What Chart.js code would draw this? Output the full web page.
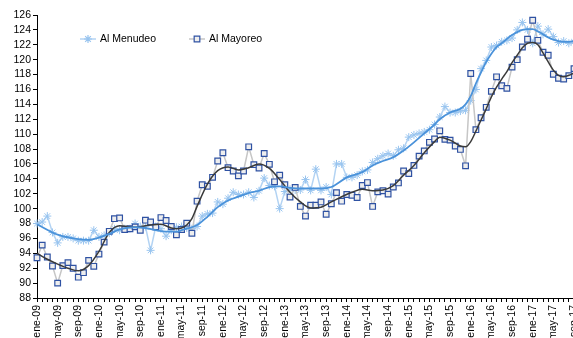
<!DOCTYPE html>
<html>
<head>
<meta charset="utf-8">
<script src="https://cdn.jsdelivr.net/npm/chart.js@4/dist/chart.umd.min.js"></script>
<style>
  html, body { margin: 0; padding: 0; background: #fff; overflow: hidden; }
  #wrap { position: relative; width: 580px; height: 338px; }
</style>
</head>
<body>
<div id="wrap"><canvas id="c" width="580" height="338"></canvas></div>
<script>
// Monthly categories, ene-09 .. sep-17
const monthNames = ['ene', 'feb', 'mar', 'abr', 'may', 'jun', 'jul', 'ago', 'sep', 'oct', 'nov', 'dic'];
const years = ['09', '10', '11', '12', '13', '14', '15', '16', '17'];
const categories = [];
years.forEach(y => monthNames.forEach(m => categories.push(m + '-' + y)));
categories.length = 105;

// Price index, retail ("Al Menudeo")
const menudeo = [
  98.0, 98.2, 99.0, 96.8, 95.4, 96.2, 96.2, 96.0, 95.7, 95.7,
  95.7, 97.1, 96.2, 96.4, 96.7, 97.3, 97.1, 97.3, 97.3, 98.0,
  97.6, 97.6, 94.4, 97.6, 97.3, 96.3, 97.1, 97.5, 97.6, 97.4,
  97.3, 97.6, 99.0, 99.3, 99.4, 100.9, 100.6, 101.4, 102.2, 101.9,
  101.9, 102.2, 101.5, 102.4, 104.1, 103.1, 103.0, 100.0, 102.3, 102.6,
  102.5, 102.5, 103.9, 102.45, 105.3, 102.45, 102.9, 101.9, 106.0, 106.0,
  104.2, 104.2, 104.5, 105.0, 105.2, 106.2, 106.7, 107.1, 107.4, 107.1,
  107.9, 108.1, 109.6, 109.9, 110.1, 110.3, 110.6, 111.3, 112.3, 113.7,
  112.9, 112.9, 113.1, 113.2, 114.5, 116.0, 118.8, 119.9, 121.7, 121.9,
  122.4, 122.6, 122.9, 124.0, 125.0, 124.0, 122.2, 124.5, 123.4, 124.1,
  123.1, 122.3, 122.5, 122.2, 122.4
];

// Price index, wholesale ("Al Mayoreo")
const mayoreo = [
  93.4, 95.1, 93.5, 92.3, 90.0, 92.35, 92.75, 92.0, 90.8, 91.4,
  93.05, 92.25, 93.9, 95.5, 96.95, 98.65, 98.75, 97.2, 97.3, 97.55,
  97.1, 98.45, 98.2, 97.55, 98.8, 98.4, 97.6, 96.5, 97.2, 98.05,
  96.7, 101.0, 103.2, 103.0, 104.2, 106.4, 107.5, 105.5, 105.05, 104.4,
  105.05, 108.3, 105.9, 105.45, 107.4, 105.95, 103.6, 104.5, 103.2, 101.55,
  102.85, 100.3, 99.0, 100.45, 100.45, 100.9, 99.25, 100.65, 102.15, 101.0,
  101.9, 101.8, 101.5, 103.1, 103.5, 100.3, 102.25, 102.4, 101.95, 102.9,
  103.45, 105.05, 104.7, 105.8, 107.05, 107.75, 108.9, 109.35, 110.45, 109.3,
  109.2, 108.4, 107.95, 105.75, 118.15, 110.6, 112.2, 113.6, 115.75, 117.7,
  116.5, 116.15, 119.0, 120.0, 121.7, 122.75, 125.3, 122.6, 121.0, 120.6,
  118.05, 117.5, 117.4, 117.85, 118.8
];

// Smoothed trend readings (month index, value)
const menudeoTrendAt = [0, 4, 8, 10, 12, 14, 16, 19, 21, 23, 25, 27, 28, 31, 33, 35, 37, 39, 41, 43, 45, 47, 49, 51, 53, 55, 57, 60, 63, 65, 67, 69, 71, 73, 75, 77, 78, 80, 82, 83, 84, 85, 86, 87, 88, 89, 90, 91, 92, 93, 94, 95, 96, 97, 98, 99, 100, 101, 102, 103, 104];
const menudeoTrend = [97.9, 96.5, 95.9, 95.8, 96.1, 96.6, 97.2, 97.5, 97.4, 97.1, 96.9, 96.9, 97.1, 97.8, 98.9, 100.2, 101.1, 101.6, 102.1, 102.4, 102.9, 103.0, 102.8, 102.7, 102.7, 102.7, 102.9, 104.2, 104.9, 105.8, 106.4, 106.9, 107.8, 108.9, 110.1, 111.3, 112.0, 112.9, 113.4, 114.0, 115.1, 116.8, 118.3, 119.7, 120.8, 121.7, 122.2, 122.8, 123.3, 123.7, 124.0, 124.1, 124.1, 123.8, 123.4, 123.0, 122.7, 122.5, 122.4, 122.4, 122.5];

const mayoreoTrendAt = [0, 2, 4, 6, 8, 10, 12, 14, 16, 19, 22, 24, 26, 27, 28, 29, 30, 31, 33, 35, 37, 39, 41, 43, 45, 47, 49, 51, 53, 55, 57, 59, 61, 63, 65, 67, 69, 71, 73, 75, 77, 78, 80, 82, 83, 84, 85, 86, 87, 88, 89, 90, 91, 92, 93, 94, 95, 96, 97, 98, 99, 100, 101, 102, 103, 104];
const mayoreoTrend = [94.0, 93.2, 92.55, 92.0, 91.65, 92.35, 94.25, 96.8, 97.7, 97.5, 97.8, 97.9, 97.4, 97.3, 97.4, 97.8, 98.65, 100.3, 103.3, 105.1, 105.6, 105.2, 105.5, 106.0, 105.4, 103.9, 102.2, 100.9, 100.1, 100.2, 100.9, 101.6, 102.2, 102.6, 102.4, 102.5, 103.1, 104.5, 105.8, 107.5, 109.0, 109.6, 109.2, 108.4, 108.3, 109.0, 110.4, 111.9, 113.4, 115.0, 116.3, 117.4, 118.4, 119.6, 120.6, 121.6, 122.2, 122.3, 122.0, 120.9, 119.7, 118.6, 117.9, 117.7, 117.9, 118.2];

const seriesNames = ['Al Menudeo', 'Al Mayoreo'];

const toPoints = (idx, vals) => idx.map((i, k) => ({ x: categories[i], y: vals[k] }));

const COLORS = {
  menudeoMark: '#98c4ef',
  menudeoLine: '#b3d3f3',
  menudeoTrend: '#4a92da',
  mayoreoMark: '#2f52a3',
  mayoreoFill: '#eeeeee',
  mayoreoLine: '#c6c6c6',
  mayoreoTrend: '#3a3a3a'
};

// Key drawn inside the plot, line + marker per series
const seriesKey = {
  id: 'seriesKey',
  afterDraw(chart) {
    const ctx = chart.ctx;
    const y = 39;
    const items = [
      { x: 80, label: seriesNames[0], line: COLORS.menudeoLine, style: 'star', border: COLORS.menudeoMark, fill: COLORS.menudeoMark, r: 4 },
      { x: 189, label: seriesNames[1], line: COLORS.mayoreoLine, style: 'rect', border: COLORS.mayoreoMark, fill: COLORS.mayoreoFill, r: 4 }
    ];
    ctx.save();
    items.forEach(it => {
      ctx.strokeStyle = it.line;
      ctx.lineWidth = 1.5;
      ctx.beginPath();
      ctx.moveTo(it.x, y);
      ctx.lineTo(it.x + 16, y);
      ctx.stroke();
      ctx.strokeStyle = it.border;
      ctx.fillStyle = it.fill;
      ctx.lineWidth = 1.2;
      Chart.helpers.drawPoint(ctx, { pointStyle: it.style, radius: it.r, borderWidth: 1.2, rotation: 0 }, it.x + 8, y);
      ctx.fillStyle = '#000';
      ctx.font = '10.5px "Liberation Sans", Arial, sans-serif';
      ctx.textBaseline = 'middle';
      ctx.textAlign = 'left';
      ctx.fillText(it.label, it.x + 20, y + 0.5);
    });
    ctx.restore();
  }
};

const tickFont = { family: '"Liberation Sans Narrow", "Liberation Sans", Arial, sans-serif', size: 10.5 };

new Chart(document.getElementById('c'), {
  type: 'line',
  data: {
    labels: categories,
    datasets: [
      {
        label: 'Tendencia menudeo',
        data: toPoints(menudeoTrendAt, menudeoTrend),
        borderColor: COLORS.menudeoTrend,
        borderWidth: 1.8,
        pointRadius: 0,
        cubicInterpolationMode: 'monotone',
        fill: false
      },
      {
        label: 'Tendencia mayoreo',
        data: toPoints(mayoreoTrendAt, mayoreoTrend),
        borderColor: COLORS.mayoreoTrend,
        borderWidth: 1.5,
        pointRadius: 0,
        cubicInterpolationMode: 'monotone',
        fill: false
      },
      {
        label: seriesNames[1],
        data: mayoreo,
        borderColor: COLORS.mayoreoLine,
        borderWidth: 1.5,
        tension: 0,
        pointStyle: 'rect',
        pointRadius: 4,
        pointBorderWidth: 1.2,
        pointBorderColor: COLORS.mayoreoMark,
        pointBackgroundColor: COLORS.mayoreoFill,
        fill: false
      },
      {
        label: seriesNames[0],
        data: menudeo,
        borderColor: COLORS.menudeoLine,
        borderWidth: 1.5,
        tension: 0,
        pointStyle: 'star',
        pointRadius: 4,
        pointBorderWidth: 1,
        pointBorderColor: COLORS.menudeoMark,
        pointBackgroundColor: COLORS.menudeoMark,
        fill: false
      }
    ]
  },
  options: {
    responsive: false,
    animation: false,
    devicePixelRatio: 1,
    layout: { padding: { top: 15, right: 0, bottom: 0, left: 0 } },
    plugins: {
      legend: { display: false },
      tooltip: { enabled: false }
    },
    scales: {
      x: {
        type: 'category',
        offset: false,
        grid: { drawOnChartArea: false, drawTicks: true, tickLength: 4, tickColor: '#000', tickWidth: 1 },
        border: { display: true, color: '#000', width: 1 },
        ticks: {
          autoSkip: false,
          minRotation: 90,
          maxRotation: 90,
          padding: 3,
          color: '#000',
          font: tickFont,
          callback: (v, i) => (i % 4 === 0 ? categories[i] : '')
        },
        afterFit: s => { s.height = 40; s.paddingRight = 6; s.paddingLeft = 0; }
      },
      y: {
        min: 88,
        max: 126,
        grid: { drawOnChartArea: false, drawTicks: true, tickLength: 4, tickColor: '#000', tickWidth: 1 },
        border: { display: true, color: '#000', width: 1 },
        ticks: { stepSize: 2, autoSkip: false, padding: 2, color: '#000', font: tickFont },
        afterFit: s => { s.width = 37; }
      }
    }
  },
  plugins: [seriesKey]
});
</script>
</body>
</html>
